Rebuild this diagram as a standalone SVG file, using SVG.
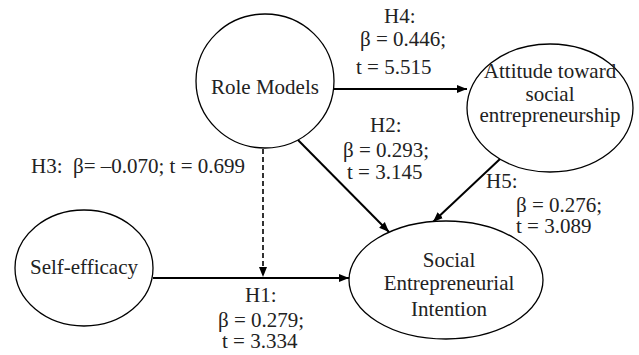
<svg xmlns="http://www.w3.org/2000/svg" width="639" height="355" viewBox="0 0 639 355">
<style>
.n{fill:#fff;stroke:#000;stroke-width:1.3}
.e{stroke:#000;stroke-width:2;fill:none}
.d{stroke-dasharray:5,3;stroke-width:1.6}
</style>
<defs>
<marker id="ah" viewBox="0 0 10 10" refX="10" refY="5" markerWidth="10" markerHeight="10" markerUnits="userSpaceOnUse" orient="auto">
<path d="M0,1 L10,5 L0,9 z" fill="#000"/>
</marker>
</defs>
<g id="connectors">
<line class="e" x1="334" y1="89" x2="467" y2="89" marker-end="url(#ah)"/>
<line class="e" x1="298" y1="140" x2="389" y2="232" marker-end="url(#ah)"/>
<line class="e" x1="500" y1="159" x2="433" y2="222" marker-end="url(#ah)"/>
<line class="e" x1="153" y1="278" x2="349" y2="278" marker-end="url(#ah)"/>
<line class="e d" x1="263" y1="149" x2="263" y2="277" marker-end="url(#ah)"/>
</g>
<g id="labels" font-family="Times New Roman, Liberation Serif, serif" font-size="21" fill="#222">
<text x="384" y="23">H4:</text>
<text x="360" y="46">β = 0.446;</text>
<text x="356" y="74">t = 5.515</text>
<text x="370" y="132">H2:</text>
<text x="343" y="157">β = 0.293;</text>
<text x="347" y="179">t = 3.145</text>
<text x="31" y="173" xml:space="preserve">H3:  β= –0.070; t = 0.699</text>
<text x="245" y="302">H1:</text>
<text x="218" y="327">β = 0.279;</text>
<text x="222" y="348">t = 3.334</text>
<text x="486" y="188">H5:</text>
<text x="516" y="212">β = 0.276;</text>
<text x="516" y="233">t = 3.089</text>
</g>
<g id="role-models" font-family="Times New Roman, Liberation Serif, serif" font-size="21" fill="#222" text-anchor="middle">
<ellipse class="n" cx="265" cy="81" rx="69" ry="67"/>
<text x="265" y="94">Role Models</text>
</g>
<g id="attitude" font-family="Times New Roman, Liberation Serif, serif" font-size="21" fill="#222" text-anchor="middle">
<ellipse class="n" cx="550" cy="108" rx="83" ry="64"/>
<text x="550" y="78">Attitude toward</text>
<text x="550" y="101">social</text>
<text x="550" y="122">entrepreneurship</text>
</g>
<g id="self-efficacy" font-family="Times New Roman, Liberation Serif, serif" font-size="21" fill="#222" text-anchor="middle">
<ellipse class="n" cx="84" cy="268" rx="69" ry="58"/>
<text x="84" y="274">Self-efficacy</text>
</g>
<g id="sei" font-family="Times New Roman, Liberation Serif, serif" font-size="21" fill="#222" text-anchor="middle">
<ellipse class="n" cx="446" cy="280" rx="97" ry="59"/>
<text x="449" y="267">Social</text>
<text x="449" y="290">Entrepreneurial</text>
<text x="449" y="316">Intention</text>
</g>
</svg>
